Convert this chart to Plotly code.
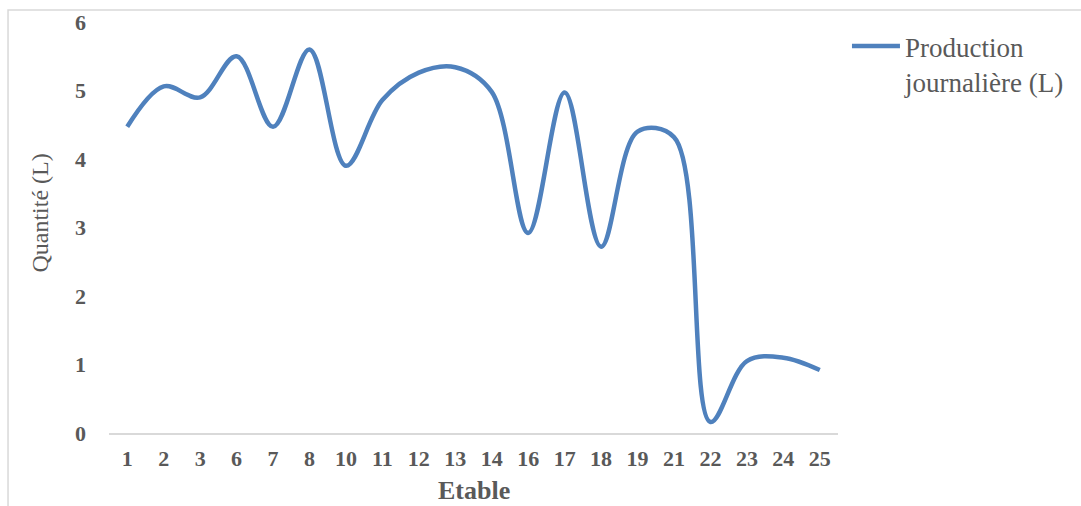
import plotly.graph_objects as go

# Etables (categories on the x axis) and daily production in litres
etables = ["1", "2", "3", "6", "7", "8", "10", "11", "12", "13",
           "14", "16", "17", "18", "19", "21", "22", "23", "24", "25"]
production = [4.47, 5.06, 4.9, 5.5, 4.47, 5.6, 3.9, 4.86, 5.26, 5.34,
              4.98, 2.92, 4.97, 2.72, 4.4, 4.32, 0.16, 1.05, 1.1, 0.92]

y_ticks = [0, 1, 2, 3, 4, 5, 6]

series_name = "Production<br>journalière (L)"
line_color = "#4F81BD"
text_gray = "#595959"
font_family = "Liberation Serif, Times New Roman, serif"

fig = go.Figure()
fig.add_trace(go.Scatter(
    x=etables,
    y=production,
    mode="lines",
    name=series_name,
    line=dict(color=line_color, width=4.5, shape="spline", smoothing=1.0),
))

fig.update_layout(
    width=1081,
    height=506,
    margin=dict(l=109, r=243, t=22, b=73, autoexpand=False),
    paper_bgcolor="white",
    plot_bgcolor="white",
    font=dict(family=font_family, color=text_gray),
    showlegend=True,
    legend=dict(
        x=1.0123, xanchor="left",
        y=1.0, yanchor="top",
        font=dict(size=27, color=text_gray, family=font_family),
        valign="top",
        itemwidth=48,
        bgcolor="rgba(0,0,0,0)",
        borderwidth=0,
    ),
    xaxis=dict(
        type="category",
        range=[-0.5, len(etables) - 0.5],
        showgrid=False,
        zeroline=False,
        showline=True,
        linecolor="#D9D9D9",
        linewidth=1.5,
        ticks="",
        tickfont=dict(size=22, color=text_gray, family=font_family, weight="bold"),
        ticklabelstandoff=5,
    ),
    yaxis=dict(
        range=[0, 6],
        tickvals=y_ticks,
        showgrid=False,
        zeroline=False,
        showline=False,
        ticks="",
        tickfont=dict(size=22, color=text_gray, family=font_family, weight="bold"),
        ticklabelstandoff=22,
    ),
    annotations=[
        dict(text="Etable", xref="paper", yref="paper",
             x=0.5, y=-0.14, xanchor="center", yanchor="middle",
             showarrow=False,
             font=dict(size=26, color=text_gray, family=font_family, weight="bold")),
        dict(text="Quantité (L)", xref="paper", yref="paper",
             x=-0.094, y=0.535, xanchor="center", yanchor="middle",
             textangle=-90, showarrow=False,
             font=dict(size=24, color=text_gray, family=font_family)),
    ],
    shapes=[
        # outer chart frame (top and left edges fall inside the page)
        dict(type="rect", xref="paper", yref="paper",
             x0=-0.1385, x1=1.6, y0=-0.5, y1=1.029,
             line=dict(color="#D9D9D9", width=1.5), fillcolor="rgba(0,0,0,0)",
             layer="below"),
    ],
)

fig.write_html("out.html")
